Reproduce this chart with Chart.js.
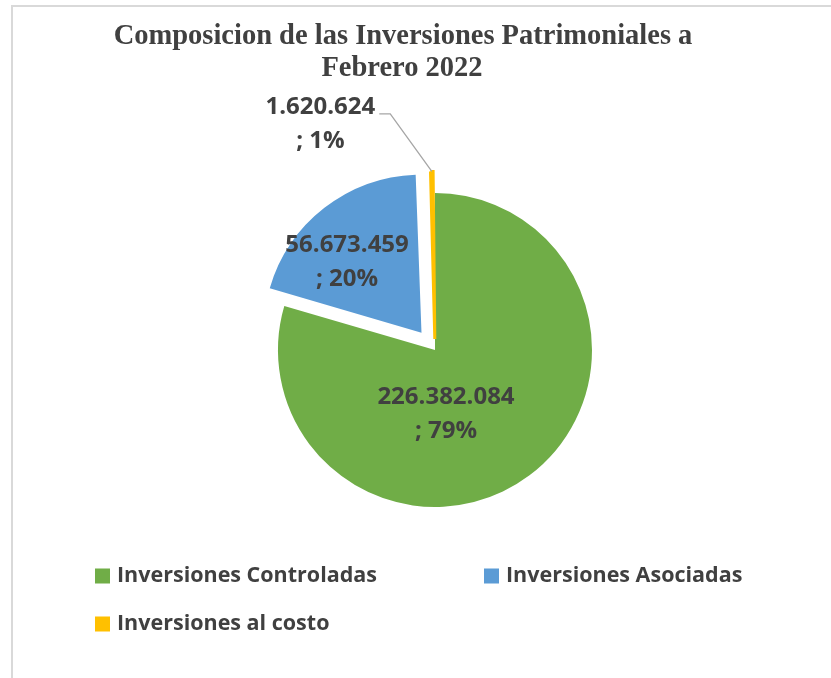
<!DOCTYPE html>
<html>
<head>
<meta charset="utf-8">
<script src="https://cdn.jsdelivr.net/npm/chart.js@4.4.0/dist/chart.umd.min.js"></script>
<style>
  html, body { margin: 0; padding: 0; background: #fff; }
  #wrap { position: relative; width: 831px; height: 678px; overflow: hidden; }
  #frame { position: absolute; left: 11px; top: 5px; right: -4px; bottom: -4px;
           border-top: 2px solid #d9d9d9; border-left: 2px solid #d9d9d9; }
  canvas { position: absolute; left: 0; top: 0; }
</style>
</head>
<body>
<div id="wrap">
  <div id="frame"></div>
  <canvas id="chart" width="831" height="678"></canvas>
</div>
<script>
// data
const titleLines = ['Composicion de las Inversiones Patrimoniales a', 'Febrero 2022'];
const categories = ['Inversiones Controladas', 'Inversiones Asociadas', 'Inversiones al costo'];
const values = [226382084, 56673459, 1620624];
const percentLabels = ['79%', '20%', '1%'];

// styles
const colors = ['#70AD47', '#5B9BD5', '#FFC000'];
// chart.js moves an arc by offset / 4
const explode = [0, 88, 44];
const textColor = '#404040';
const labelFont = 'bold 24px "Open Sans", sans-serif';
const legendFont = 'bold 21.5px "Open Sans", sans-serif';
// label anchor relative to pie centre, in units of radius
const labelPos = [[0.07, 0.41], [-0.56, -0.56], [-0.73, -1.44]];

const fmt = v => String(v).replace(/\B(?=(\d{3})+(?!\d))/g, '.');

const overlay = {
  id: 'overlay',
  afterDraw(chart) {
    const ctx = chart.ctx;
    const meta = chart.getDatasetMeta(0);
    ctx.save();

    // title
    ctx.fillStyle = textColor;
    ctx.textAlign = 'center';
    ctx.textBaseline = 'middle';
    ctx.font = 'bold 28.5px "Liberation Serif", "Times New Roman", serif';
    ctx.fillText(titleLines[0], 403, 37);
    ctx.fillText(titleLines[1], 402, 69);

    // data labels
    ctx.font = labelFont;
    meta.data.forEach((arc, i) => {
      const p = arc.getProps(['x', 'y', 'startAngle', 'endAngle', 'outerRadius', 'circumference']);
      const mid = (p.startAngle + p.endAngle) / 2;
      const lx = p.x + labelPos[i][0] * p.outerRadius;
      const ly = p.y + labelPos[i][1] * p.outerRadius;
      const line1 = fmt(values[i]);
      const line2 = '; ' + percentLabels[i];
      ctx.fillStyle = textColor;
      ctx.fillText(line1, lx, ly - 17);
      ctx.fillText(line2, lx, ly + 17);

      if (i === 2) {
        // leader line to the small slice
        const shift = explode[i] / 4;
        const grow = shift * (1 - Math.sin(Math.min(Math.PI, p.circumference)));
        const reach = shift + p.outerRadius + grow;
        const w = ctx.measureText(line1).width;
        const sx = lx + w / 2 + 4;
        const sy = ly - 10;
        const ex = p.x + Math.cos(mid) * reach;
        const ey = p.y + Math.sin(mid) * reach;
        ctx.strokeStyle = '#a6a6a6';
        ctx.lineWidth = 1.3;
        ctx.beginPath();
        ctx.moveTo(sx, sy);
        ctx.lineTo(sx + 11, sy);
        ctx.lineTo(ex, ey);
        ctx.stroke();
      }
    });

    // legend
    const cols = [95, 484];
    const rows = [576, 624];
    ctx.font = legendFont;
    ctx.textAlign = 'left';
    categories.forEach((c, i) => {
      const x = cols[i % 2];
      const y = rows[Math.floor(i / 2)];
      ctx.fillStyle = colors[i];
      ctx.fillRect(x, y - 7.5, 15, 15);
      ctx.fillStyle = textColor;
      ctx.fillText(c, x + 22, y);
    });
    ctx.restore();
  }
};

new Chart(document.getElementById('chart'), {
  type: 'pie',
  data: {
    labels: categories,
    datasets: [{
      data: values,
      backgroundColor: colors,
      borderColor: colors,
      borderWidth: [0, 0, 3],
      borderJoinStyle: 'miter',
      offset: explode,
      hoverOffset: 0
    }]
  },
  options: {
    responsive: false,
    animation: false,
    events: [],
    radius: 157,
    layout: { padding: { left: 235, right: 196, top: 182, bottom: 160 } },
    plugins: {
      legend: { display: false },
      title: { display: false },
      tooltip: { enabled: false }
    }
  },
  plugins: [overlay]
});
</script>
</body>
</html>
